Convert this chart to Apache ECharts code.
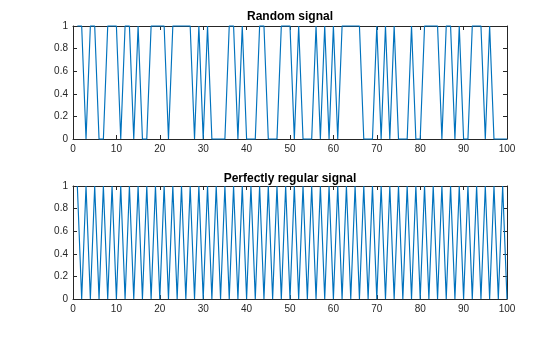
<!DOCTYPE html>
<html>
<head>
<meta charset="utf-8">
<script src="https://cdn.jsdelivr.net/npm/echarts@6/dist/echarts.min.js"></script>
<style>html,body{margin:0;padding:0;background:#fff;}#c{width:560px;height:337px;}</style>
</head>
<body>
<div id="c"></div>
<script>
const titles = ["Random signal", "Perfectly regular signal"];
const xTicks = [0, 10, 20, 30, 40, 50, 60, 70, 80, 90, 100];
const yTicks = [0, 0.2, 0.4, 0.6, 0.8, 1];
const sampleIdx = [1,2,3,4,5,6,7,8,9,10,11,12,13,14,15,16,17,18,19,20,21,22,23,24,25,26,27,28,29,30,31,32,33,34,35,36,37,38,39,40,41,42,43,44,45,46,47,48,49,50,51,52,53,54,55,56,57,58,59,60,61,62,63,64,65,66,67,68,69,70,71,72,73,74,75,76,77,78,79,80,81,82,83,84,85,86,87,88,89,90,91,92,93,94,95,96,97,98,99,100];
const randomSignal = [1,1,0,1,1,0,0,1,1,1, 0,1,1,0,1,0,0,1,1,1, 1,0,1,1,1,1,1,0,1,0, 1,0,0,0,0,1,1,0,1,0, 0,0,1,1,0,0,0,1,1,1, 0,1,0,0,0,1,0,1,0,1, 0,1,1,1,1,1,0,0,0,1, 0,1,0,1,0,0,0,1,0,0, 1,1,1,1,0,1,1,0,1,0, 0,1,1,1,0,1,0,0,0,0];
const regularSignal = [1,0,1,0,1,0,1,0,1,0, 1,0,1,0,1,0,1,0,1,0, 1,0,1,0,1,0,1,0,1,0, 1,0,1,0,1,0,1,0,1,0, 1,0,1,0,1,0,1,0,1,0, 1,0,1,0,1,0,1,0,1,0, 1,0,1,0,1,0,1,0,1,0, 1,0,1,0,1,0,1,0,1,0, 1,0,1,0,1,0,1,0,1,0, 1,0,1,0,1,0,1,0,1,0];

const FONT = "Liberation Sans, Arial, Helvetica, sans-serif";
const AX = '#262626';
const LINE = '#0072BD';
const chart = echarts.init(document.getElementById('c'), null, {renderer: 'canvas'});

const grids = [
  {left: 73, top: 26, width: 434, height: 113},
  {left: 73, top: 186, width: 434, height: 113}
];

function xAx(g, pos, show) {
  return {
    type: 'value', gridIndex: g, position: pos, min: xTicks[0], max: xTicks[xTicks.length-1], interval: 10,
    z: 0,
    axisLine: {show: true, onZero: false, lineStyle: {color: AX, width: 1}},
    axisTick: {show: true, inside: true, length: 4, lineStyle: {color: AX}},
    axisLabel: {show: show, color: AX, fontFamily: FONT, fontSize: 10, margin: 5},
    splitLine: {show: false}
  };
}
function yAx(g, pos, show) {
  return {
    type: 'value', gridIndex: g, position: pos, min: yTicks[0], max: yTicks[yTicks.length-1], interval: 0.2,
    z: 0,
    axisLine: {show: true, onZero: false, lineStyle: {color: AX, width: 1}},
    axisTick: {show: true, inside: true, length: 4, lineStyle: {color: AX}},
    axisLabel: {show: show, color: AX, fontFamily: FONT, fontSize: 10, margin: 5,
      formatter: v => String(Math.round(v * 10) / 10)},
    splitLine: {show: false}
  };
}

function pairs(vals) { return vals.map((v, i) => [sampleIdx[i], v]); }

const option = {
  animation: false,
  backgroundColor: '#fff',
  graphic: [
    {type: 'text', x: 290, y: 16.5, style: {text: titles[0], textAlign: 'center', textVerticalAlign: 'middle',
      font: 'bold 12px ' + FONT, fill: '#000'}},
    {type: 'text', x: 290, y: 178.5, style: {text: titles[1], textAlign: 'center', textVerticalAlign: 'middle',
      font: 'bold 12px ' + FONT, fill: '#000'}}
  ],
  grid: grids,
  xAxis: [xAx(0, 'bottom', true), xAx(0, 'top', false), xAx(1, 'bottom', true), xAx(1, 'top', false)],
  yAxis: [yAx(0, 'left', true), yAx(0, 'right', false), yAx(1, 'left', true), yAx(1, 'right', false)],
  series: [
    {type: 'line', xAxisIndex: 0, yAxisIndex: 0, data: pairs(randomSignal), showSymbol: false, clip: false, z: 10,
     lineStyle: {color: LINE, width: 1.15}, itemStyle: {color: LINE}},
    {type: 'line', xAxisIndex: 2, yAxisIndex: 2, data: pairs(regularSignal), showSymbol: false, clip: false, z: 10,
     lineStyle: {color: LINE, width: 1.15}, itemStyle: {color: LINE}}
  ]
};
chart.setOption(option);
</script>
</body>
</html>
